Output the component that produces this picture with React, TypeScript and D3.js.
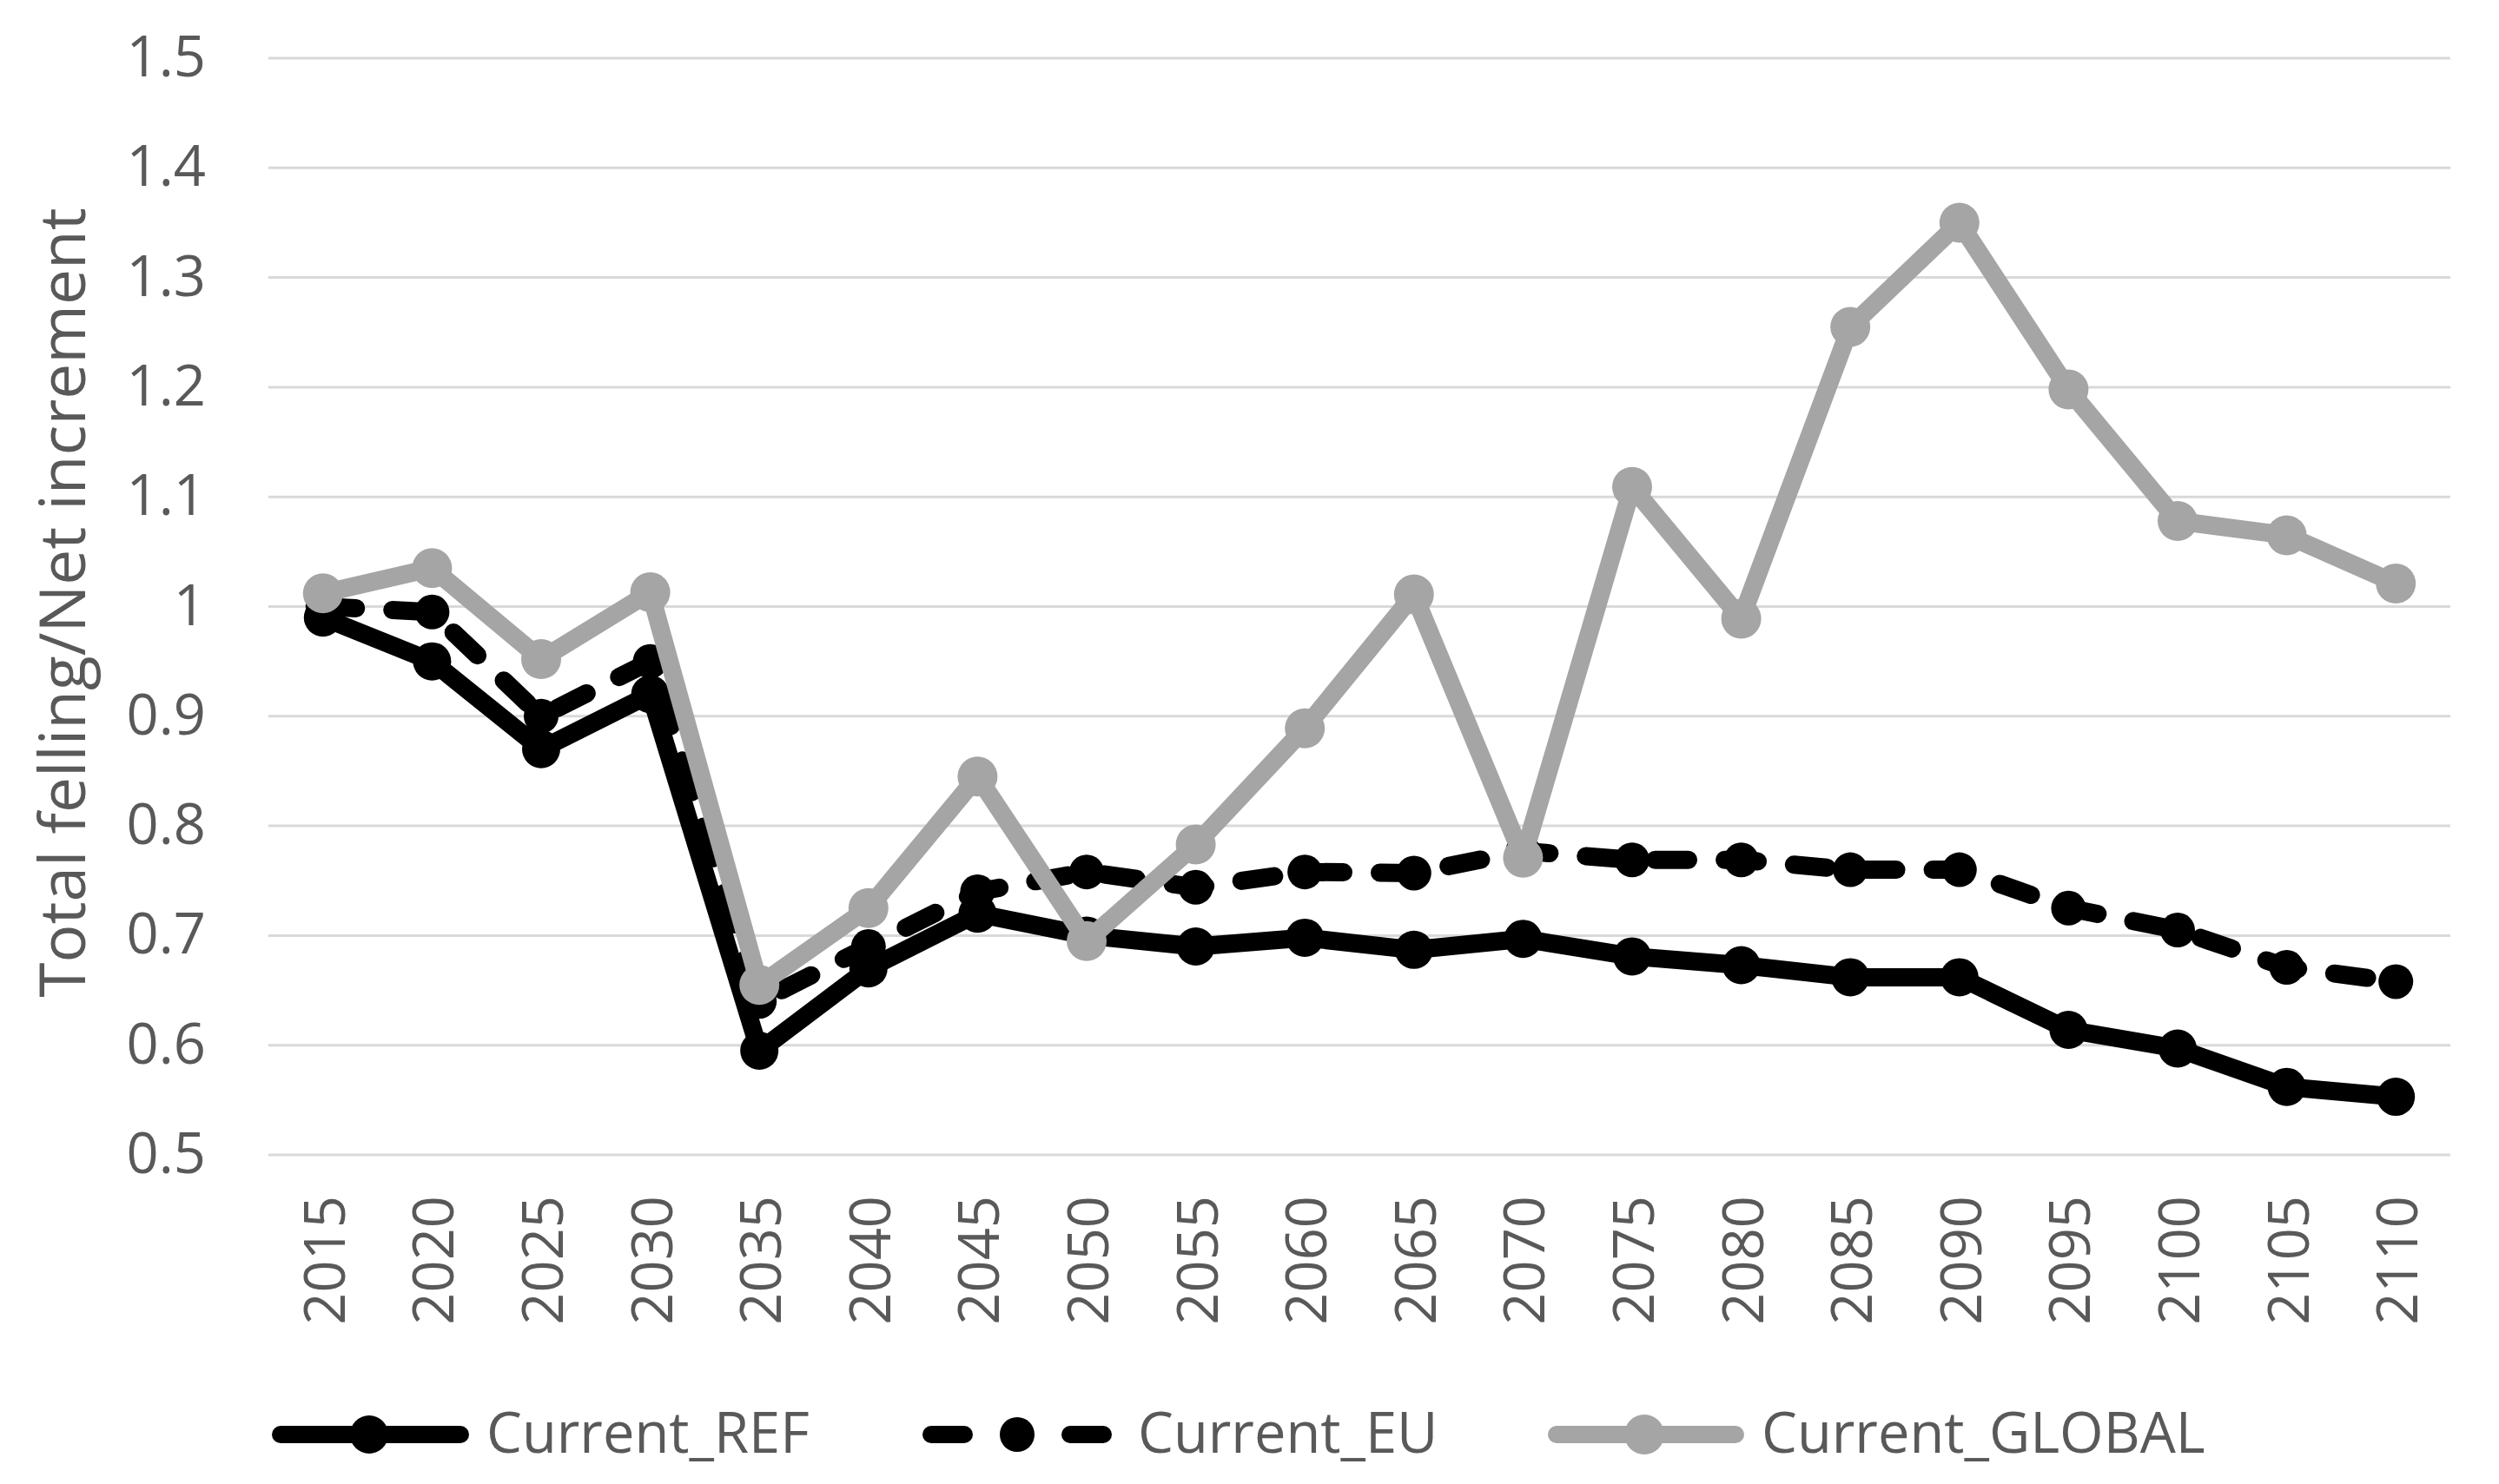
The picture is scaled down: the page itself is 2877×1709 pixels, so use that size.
import React from "react";
import * as d3 from "d3";

const years = [2015, 2020, 2025, 2030, 2035, 2040, 2045, 2050, 2055, 2060, 2065, 2070, 2075, 2080, 2085, 2090, 2095, 2100, 2105, 2110];
const refValues = [0.99, 0.95, 0.87, 0.92, 0.595, 0.67, 0.72, 0.70, 0.69, 0.698, 0.687, 0.697, 0.681, 0.673, 0.662, 0.662, 0.614, 0.597, 0.562, 0.553];
const euValues = [1.0, 0.995, 0.90, 0.95, 0.64, 0.69, 0.74, 0.758, 0.744, 0.758, 0.757, 0.777, 0.769, 0.769, 0.76, 0.76, 0.725, 0.705, 0.671, 0.658];
const globalValues = [1.012, 1.035, 0.952, 1.013, 0.655, 0.725, 0.845, 0.695, 0.783, 0.889, 1.011, 0.771, 1.109, 0.989, 1.255, 1.35, 1.198, 1.078, 1.065, 1.021];
const yTicks = [0.5, 0.6, 0.7, 0.8, 0.9, 1, 1.1, 1.2, 1.3, 1.4, 1.5];
const seriesNames = ["Current_REF", "Current_EU", "Current_GLOBAL"];
const yTitle = "Total felling/Net increment";

const W = 2877;
const H = 1709;
const FONT = "'Open Sans', 'Noto Sans', sans-serif";
const TEXT = "#595959";

export default function App() {
  const x = d3.scalePoint<number>().domain(years).range([309, 2821]).padding(0.5);
  const y = d3.scaleLinear().domain([0.5, 1.5]).range([1330, 67]);
  const line = d3
    .line<number>()
    .x((_, i) => x(years[i]) as number)
    .y((d) => y(d));

  const series = [
    { name: seriesNames[0], values: refValues, color: "#000000", dash: undefined as string | undefined, r: 22 },
    { name: seriesNames[1], values: euValues, color: "#000000", dash: "38 42", r: 20 },
    { name: seriesNames[2], values: globalValues, color: "#A5A5A5", dash: undefined as string | undefined, r: 23 },
  ];

  const legend = [
    { x1: 313, x2: 540, cx: 425, tx: 560 },
    { x1: 1062, x2: 1280, cx: 1171, tx: 1310 },
    { x1: 1782, x2: 2008, cx: 1893, tx: 2028 },
  ];
  const legendY = 1652;

  return (
    <svg
      width={W}
      height={H}
      viewBox={`0 0 ${W} ${H}`}
      style={{ position: "absolute", left: 0, top: 0, background: "#fff" }}
    >
      <rect x={0} y={0} width={W} height={H} fill="#fff" />
      {yTicks.map((t) => (
        <g key={t}>
          <line x1={309} x2={2821} y1={y(t)} y2={y(t)} stroke="#D9D9D9" strokeWidth={3} />
          <text
            x={237}
            y={y(t) + 21}
            textAnchor="end"
            fontFamily={FONT}
            fontSize={65}
            fill={TEXT}
          >
            {String(t)}
          </text>
        </g>
      ))}
      {years.map((yr) => (
        <text
          key={yr}
          transform={`translate(${(x(yr) as number) + 25},1377) rotate(-90)`}
          textAnchor="end"
          fontFamily={FONT}
          fontSize={65}
          fill={TEXT}
        >
          {yr}
        </text>
      ))}
      <text
        transform={`translate(98,${(235 + 1153) / 2}) rotate(-90)`}
        textAnchor="middle"
        fontFamily={FONT}
        fontSize={73}
        fill={TEXT}
      >
        {yTitle}
      </text>
      {series.map((s) => (
        <g key={s.name}>
          <path
            d={line(s.values) || ""}
            fill="none"
            stroke={s.color}
            strokeWidth={21}
            strokeLinejoin="round"
            strokeLinecap="round"
            strokeDasharray={s.dash}
          />
          {s.values.map((v, i) => (
            <circle key={i} cx={x(years[i]) as number} cy={y(v)} r={s.r} fill={s.color} />
          ))}
        </g>
      ))}
      {series.map((s, i) => (
        <g key={"lg" + s.name}>
          {s.dash ? (
            <>
              <line x1={legend[i].x1 + 10} x2={legend[i].x1 + 48} y1={legendY} y2={legendY} stroke={s.color} strokeWidth={20} strokeLinecap="round" />
              <line x1={legend[i].x2 - 48} x2={legend[i].x2 - 10} y1={legendY} y2={legendY} stroke={s.color} strokeWidth={20} strokeLinecap="round" />
            </>
          ) : (
            <line x1={legend[i].x1 + 10} x2={legend[i].x2 - 10} y1={legendY} y2={legendY} stroke={s.color} strokeWidth={20} strokeLinecap="round" />
          )}
          <circle cx={legend[i].cx} cy={legendY} r={s.r} fill={s.color} />
          <text x={legend[i].tx} y={legendY + 21} fontFamily={FONT} fontSize={65} fill={TEXT}>
            {s.name}
          </text>
        </g>
      ))}
    </svg>
  );
}
